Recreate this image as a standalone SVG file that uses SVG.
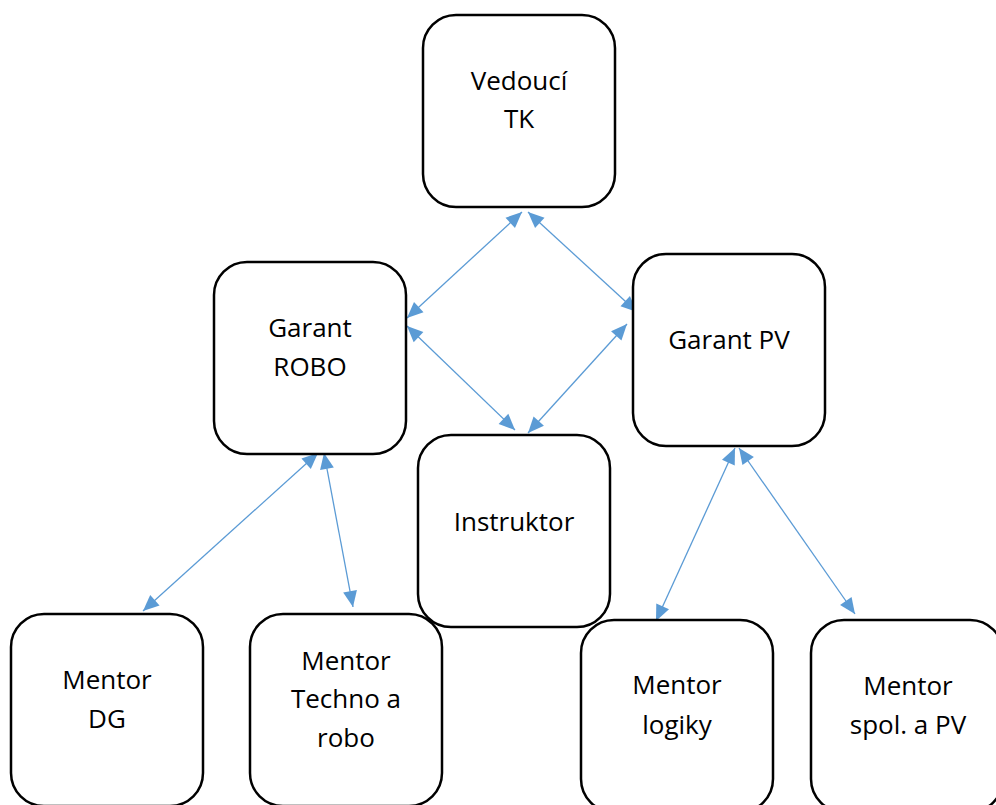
<svg xmlns="http://www.w3.org/2000/svg" width="996" height="805" viewBox="0 0 996 805">
<style>
.box{fill:#fff;stroke:#000;stroke-width:2.5}
.lbl{font-family:"Open Sans","Liberation Sans",sans-serif;font-size:26px;fill:#000;text-anchor:middle}
.conn{stroke:#5B9BD5;stroke-width:1.3;fill:none;marker-start:url(#ah);marker-end:url(#ah)}
</style>
<defs>
<marker id="ah" markerUnits="userSpaceOnUse" markerWidth="17" markerHeight="15" refX="16" refY="7" orient="auto-start-reverse" overflow="visible">
<path d="M0,0 L16,7 L0,14 z" fill="#5B9BD5"/>
</marker>
</defs>
<rect width="996" height="805" fill="#fff"/>
<g id="connectors">
<path class="conn" d="M522,212 L407,318"/>
<path class="conn" d="M528,212 L637,312"/>
<path class="conn" d="M407,326 L515,430"/>
<path class="conn" d="M627,324 L528,433"/>
<path class="conn" d="M318,453 L143,611"/>
<path class="conn" d="M324,453 L353,607"/>
<path class="conn" d="M735,448 L656,621"/>
<path class="conn" d="M739,448 L855,614"/>
</g>
<g id="vedouci">
<rect class="box" x="423" y="15" width="192" height="192" rx="33"/>
<text class="lbl" x="519" y="90">Vedoucí</text>
<text class="lbl" x="519" y="128">TK</text>
</g>
<g id="garant-robo">
<rect class="box" x="214" y="262" width="192" height="192" rx="33"/>
<text class="lbl" x="310" y="337">Garant</text>
<text class="lbl" x="310" y="376">ROBO</text>
</g>
<g id="garant-pv">
<rect class="box" x="633" y="254" width="192" height="192" rx="33"/>
<text class="lbl" x="729" y="349">Garant PV</text>
</g>
<g id="instruktor">
<rect class="box" x="418" y="435" width="192" height="192" rx="33"/>
<text class="lbl" x="514" y="531">Instruktor</text>
</g>
<g id="mentor-dg">
<rect class="box" x="11" y="614" width="192" height="192" rx="33"/>
<text class="lbl" x="107" y="689">Mentor</text>
<text class="lbl" x="107" y="728">DG</text>
</g>
<g id="mentor-techno">
<rect class="box" x="250" y="614" width="192" height="192" rx="33"/>
<text class="lbl" x="346" y="670">Mentor</text>
<text class="lbl" x="346" y="708">Techno a</text>
<text class="lbl" x="346" y="747">robo</text>
</g>
<g id="mentor-logiky">
<rect class="box" x="581" y="620" width="192" height="192" rx="33"/>
<text class="lbl" x="677" y="694">Mentor</text>
<text class="lbl" x="677" y="734">logiky</text>
</g>
<g id="mentor-spol">
<rect class="box" x="811" y="620" width="192" height="192" rx="33"/>
<text class="lbl" x="908" y="695">Mentor</text>
<text class="lbl" x="908" y="734">spol. a PV</text>
</g>
</svg>
